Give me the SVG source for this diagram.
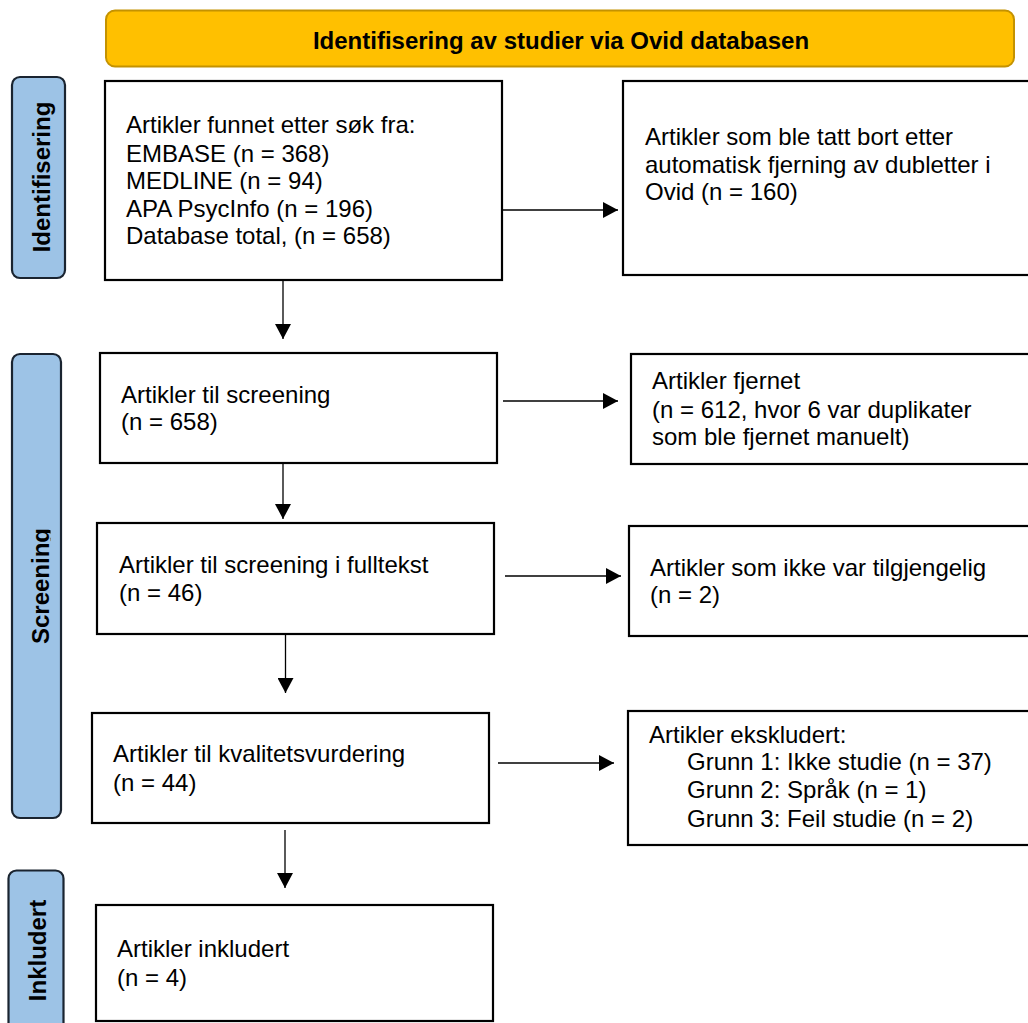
<svg xmlns="http://www.w3.org/2000/svg" width="1028" height="1023" viewBox="0 0 1028 1023">
<style>
text{font-family:"Liberation Sans",Arial,sans-serif;font-size:24px;fill:#000}
.b{font-weight:bold}
.box{fill:#fff;stroke:#000;stroke-width:2.2}
.side{fill:#9DC3E6;stroke:#1A2430;stroke-width:2.2}
.con{stroke:#000;stroke-width:1.3;fill:none}
</style>
<defs>
<marker id="ah" markerUnits="userSpaceOnUse" markerWidth="16" markerHeight="16" refX="15" refY="8" orient="auto">
<path d="M0,0 L15,8 L0,16 Z" fill="#000"/>
</marker>
<clipPath id="scClip"><rect x="0" y="340" width="50.5" height="500"/></clipPath>
</defs>
<rect width="1028" height="1023" fill="#fff"/>

<g id="banner">
<rect x="106" y="10.5" width="908" height="56" rx="9" fill="#FFC000" stroke="#C49200" stroke-width="2"/>
<text class="b" x="561" y="49" text-anchor="middle">Identifisering av studier via Ovid databasen</text>
</g>

<g id="side-identifisering">
<rect class="side" x="12" y="77" width="53" height="201" rx="8"/>
<text class="b" transform="translate(49.5,177) rotate(-90)" text-anchor="middle">Identifisering</text>
</g>
<g id="side-screening">
<rect class="side" x="12" y="354" width="49" height="464" rx="8"/>
<g clip-path="url(#scClip)"><text class="b" transform="translate(49,586) rotate(-90)" text-anchor="middle">Screening</text></g>
</g>
<g id="side-inkludert">
<rect class="side" x="8.5" y="870.5" width="55" height="170" rx="8"/>
<text class="b" transform="translate(46,950.5) rotate(-90)" text-anchor="middle">Inkludert</text>
</g>

<g id="n1">
<rect class="box" x="105" y="81" width="397" height="199"/>
<text x="126" y="133">Artikler funnet etter søk fra:</text>
<text x="126" y="162">EMBASE (n = 368)</text>
<text x="126" y="189">MEDLINE (n = 94)</text>
<text x="126" y="217">APA PsycInfo (n = 196)</text>
<text x="126" y="244">Database total, (n = 658)</text>
</g>
<g id="n2">
<rect class="box" x="623" y="81" width="420" height="194"/>
<text x="645" y="145">Artikler som ble tatt bort etter</text>
<text x="645" y="173">automatisk fjerning av dubletter i</text>
<text x="645" y="200">Ovid (n = 160)</text>
</g>
<g id="n3">
<rect class="box" x="100" y="353" width="397" height="110"/>
<text x="121" y="403">Artikler til screening</text>
<text x="121" y="430">(n = 658)</text>
</g>
<g id="n4">
<rect class="box" x="631" y="354" width="420" height="110"/>
<text x="652" y="389">Artikler fjernet</text>
<text x="652" y="418">(n = 612, hvor 6 var duplikater</text>
<text x="652" y="445">som ble fjernet manuelt)</text>
</g>
<g id="n5">
<rect class="box" x="97" y="523" width="397" height="111"/>
<text x="119" y="573">Artikler til screening i fulltekst</text>
<text x="119" y="601">(n = 46)</text>
</g>
<g id="n6">
<rect class="box" x="629" y="526" width="420" height="110"/>
<text x="650" y="576">Artikler som ikke var tilgjengelig</text>
<text x="650" y="603">(n = 2)</text>
</g>
<g id="n7">
<rect class="box" x="92" y="713" width="397" height="110"/>
<text x="113" y="762">Artikler til kvalitetsvurdering</text>
<text x="113" y="791">(n = 44)</text>
</g>
<g id="n8">
<rect class="box" x="628" y="711" width="420" height="134"/>
<text x="649" y="743">Artikler ekskludert:</text>
<text x="687" y="770">Grunn 1: Ikke studie (n = 37)</text>
<text x="687" y="798">Grunn 2: Språk (n = 1)</text>
<text x="687" y="827">Grunn 3: Feil studie (n = 2)</text>
</g>
<g id="n9">
<rect class="box" x="96" y="905" width="397" height="116"/>
<text x="117" y="957">Artikler inkludert</text>
<text x="117" y="986">(n = 4)</text>
</g>

<g id="connectors">
<line class="con" x1="283" y1="281" x2="283" y2="339" marker-end="url(#ah)"/>
<line class="con" x1="283" y1="464" x2="283" y2="519" marker-end="url(#ah)"/>
<line class="con" x1="285.5" y1="635" x2="285.5" y2="693" marker-end="url(#ah)"/>
<line class="con" x1="285" y1="830" x2="285" y2="888" marker-end="url(#ah)"/>
<line class="con" x1="502" y1="210" x2="618" y2="210" marker-end="url(#ah)"/>
<line class="con" x1="503" y1="401" x2="618" y2="401" marker-end="url(#ah)"/>
<line class="con" x1="505" y1="576" x2="621" y2="576" marker-end="url(#ah)"/>
<line class="con" x1="498" y1="763" x2="614" y2="763" marker-end="url(#ah)"/>
</g>
</svg>
